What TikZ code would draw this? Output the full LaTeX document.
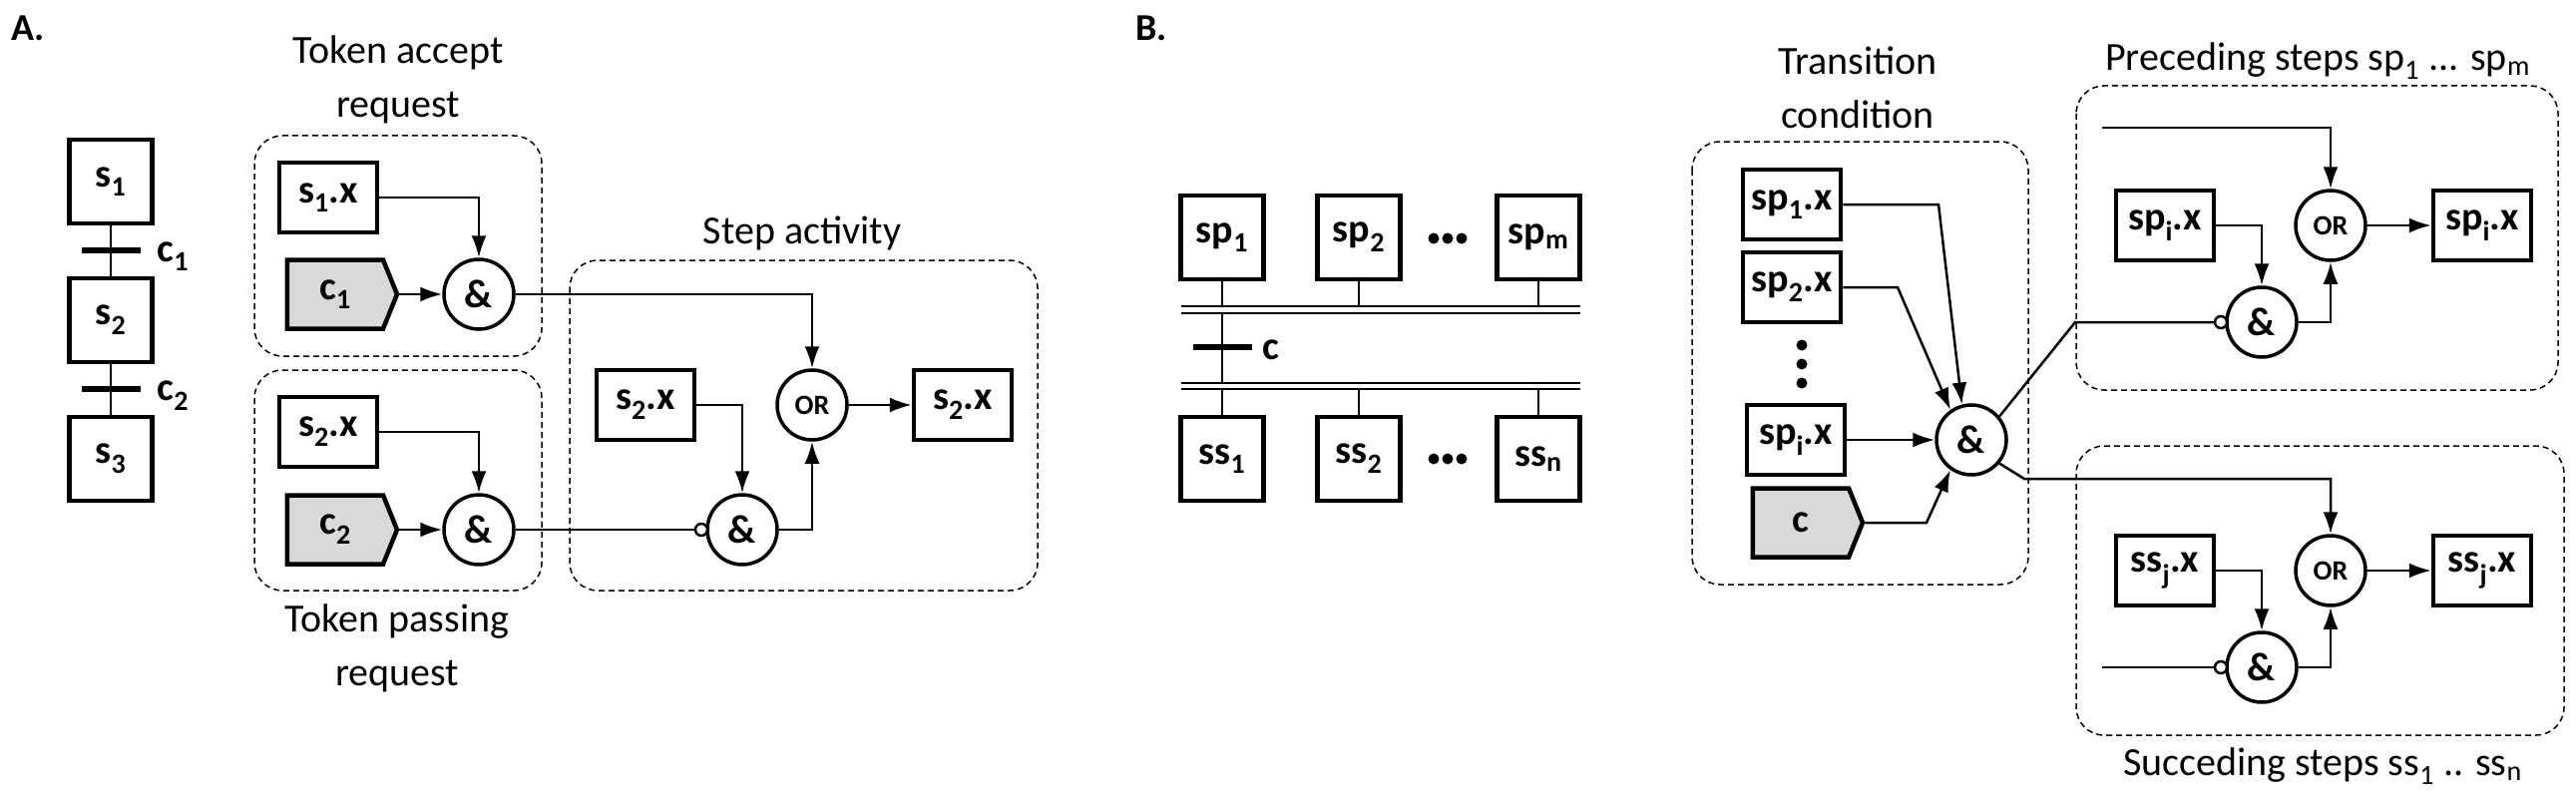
\documentclass[tikz,border=0pt]{standalone}
\usepackage{fontspec}
\setmainfont{Carlito}
\usetikzlibrary{shapes.symbols,arrows.meta}
\begin{document}
\begin{tikzpicture}[x=1pt,y=-1pt,
 box/.style={draw,line width=4.5pt,minimum width=98pt,minimum height=70pt,inner sep=0pt,font=\bfseries\fontsize{40}{46}\selectfont},
 stepbox/.style={box,minimum width=83pt,minimum height=84pt},
 gate/.style={circle,draw,line width=3.5pt,minimum size=70pt,inner sep=0pt,font=\bfseries\fontsize{40}{46}\selectfont},
 orgate/.style={gate,font=\bfseries\fontsize{28}{32}\selectfont},
 cond/.style={shape=signal,signal to=east,signal pointer angle=136,draw,line width=4.5pt,fill=gray!30,minimum width=110pt,minimum height=69pt,inner sep=0pt,font=\bfseries\fontsize{40}{46}\selectfont},
 neg/.style={circle,draw,line width=2.5pt,fill=white,minimum size=12pt,inner sep=0pt},
 grp/.style={draw,dash pattern=on 6pt off 4pt,line width=1.5pt,rounded corners=28pt},
 wire/.style={line width=2.5pt},
 arr/.style={wire,-{Latex[length=22pt,width=15pt]}},
 bar/.style={line width=6pt},
 lbl/.style={font=\fontsize{40}{54}\selectfont,align=center},
 dot/.style={fill,circle,minimum size=11pt,inner sep=0pt}]
\useasboundingbox (0,0) rectangle (2582,797);
% ---------- A ----------
\node[anchor=west,font=\bfseries\fontsize{38}{44}\selectfont] (A) at (8,28) {A.};
\node[stepbox] (s1) at (111,182) {s\textsubscript{1}};
\node[stepbox] (s2) at (111,321) {s\textsubscript{2}};
\node[stepbox] (s3) at (111,460) {s\textsubscript{3}};
\draw[wire] (s1.south) -- (s2.north);
\draw[wire] (s2.south) -- (s3.north);
\draw[bar] (82,251) -- (141,251);
\draw[bar] (82,390) -- (141,390);
\node[anchor=west,font=\bfseries\fontsize{40}{46}\selectfont] (lc1) at (154,257) {c\textsubscript{1}};
\node[anchor=west,font=\bfseries\fontsize{40}{46}\selectfont] (lc2) at (154,397) {c\textsubscript{2}};

\draw[grp] (255,136) rectangle (543,357);
\draw[grp] (255,371) rectangle (543,592);
\draw[grp] (571,261) rectangle (1040,592);
\node[lbl] (t1) at (399,80) {Token accept\\request};
\node[lbl] (t2) at (398,650) {Token passing\\request};
\node[lbl] (t3) at (804,234) {Step activity};

\node[box] (s1x) at (329,198) {s\textsubscript{1}.x};
\node[cond] (c1) at (336,295) {c\textsubscript{1}};
\node[gate] (g1) at (480,295) {\&};
\node[box] (s2x) at (329,433) {s\textsubscript{2}.x};
\node[cond] (c2) at (336,531) {c\textsubscript{2}};
\node[gate] (g2) at (480,531) {\&};
\node[box] (s2xi) at (647,406) {s\textsubscript{2}.x};
\node[orgate] (or1) at (814,406) {OR};
\node[box] (s2xo) at (965,406) {s\textsubscript{2}.x};
\node[gate] (g3) at (744,531) {\&};
\node[neg] (n3) at (703,531) {};
\draw[arr] (s1x.east) -| (g1.north);
\draw[arr] (c1.east) -- (g1.west);
\draw[arr] (s2x.east) -| (g2.north);
\draw[arr] (c2.east) -- (g2.west);
\draw[arr] (g1.east) -| (or1.north);
\draw[wire] (g2.east) -- (n3.west);
\draw[arr] (s2xi.east) -| (g3.north);
\draw[arr] (g3.east) -| (or1.south);
\draw[arr] (or1.east) -- (s2xo.west);
% ---------- B ----------
\node[anchor=west,font=\bfseries\fontsize{38}{44}\selectfont] (B) at (1135,28) {B.};
\node[stepbox] (sp1) at (1225,238) {sp\textsubscript{1}};
\node[stepbox] (sp2) at (1362,238) {sp\textsubscript{2}};
\node[stepbox] (spm) at (1542,238) {sp\textsubscript{m}};
\node[stepbox] (ss1) at (1225,460) {ss\textsubscript{1}};
\node[stepbox] (ss2) at (1362,460) {ss\textsubscript{2}};
\node[stepbox] (ssn) at (1542,460) {ss\textsubscript{n}};
\foreach \x in {1437,1451,1465}{\node[dot] at (\x,239) {}; \node[dot] at (\x,460) {};}
\draw[wire] (1184,307) -- (1584,307);
\draw[wire] (1184,314) -- (1584,314);
\draw[wire] (1184,384) -- (1584,384);
\draw[wire] (1184,390) -- (1584,390);
\foreach \n in {sp1,sp2,spm}{\draw[wire] (\n.south) -- (\n.south |- 0,307);}
\foreach \n in {ss1,ss2,ssn}{\draw[wire] (\n.north) -- (\n.north |- 0,390);}
\draw[wire] (1225,314) -- (1225,384);
\draw[bar] (1196,348) -- (1255,348);
\node[anchor=west,font=\bfseries\fontsize{40}{46}\selectfont] (lc) at (1262,351) {c};

\draw[grp] (1696,142) rectangle (2033,586);
\draw[grp] (2081,86) rectangle (2564,391);
\draw[grp] (2081,447) rectangle (2570,737);
\node[lbl] (t4) at (1862,88) {Transition\\condition};
\node[lbl] (t5) at (2323,61) {Preceding steps sp\textsubscript{1} ... sp\textsubscript{m}};
\node[lbl] (t6) at (2328,768) {Succeding steps ss\textsubscript{1} .. ss\textsubscript{n}};

\node[box] (sp1x) at (1796,205) {sp\textsubscript{1}.x};
\node[box] (sp2x) at (1796,288) {sp\textsubscript{2}.x};
\foreach \y in {346,365,384}{\node[dot] at (1806,\y) {};}
\node[box] (spix) at (1800,441) {sp\textsubscript{i}.x};
\node[cond] (c) at (1805,524) {c};
\node[gate] (G) at (1976,441) {\&};
\draw[arr] (sp1x.east) -- (1943,205) -- (G.105);
\draw[arr] (sp2x.east) -- (1902,288) -- (G.125);
\draw[arr] (spix.east) -- (G.west);
\draw[arr] (c.east) -- (1931,524) -- (G.235);

\node[box] (spii) at (2170,226) {sp\textsubscript{i}.x};
\node[orgate] (orb1) at (2336,226) {OR};
\node[box] (spio) at (2488,226) {sp\textsubscript{i}.x};
\node[gate] (gb1) at (2267,323) {\&};
\node[neg] (n4) at (2226,323) {};
\coordinate (pin) at (2107,128);
\draw[arr] (pin) -| (orb1.north);
\draw[arr] (spii.east) -| (gb1.north);
\draw[arr] (gb1.east) -| (orb1.south);
\draw[arr] (orb1.east) -- (spio.west);
\draw[wire] (G.40) -- (2080,323) -- (n4.west);

\node[box] (ssji) at (2170,572) {ss\textsubscript{j}.x};
\node[orgate] (orb2) at (2336,572) {OR};
\node[box] (ssjo) at (2488,572) {ss\textsubscript{j}.x};
\node[gate] (gb2) at (2267,669) {\&};
\node[neg] (n5) at (2226,669) {};
\coordinate (sin) at (2107,669);
\draw[wire] (sin) -- (n5.west);
\draw[arr] (ssji.east) -| (gb2.north);
\draw[arr] (gb2.east) -| (orb2.south);
\draw[arr] (orb2.east) -- (ssjo.west);
\draw[arr] (G.-40) -- (2029,480) -| (orb2.north);
\end{tikzpicture}
\end{document}
